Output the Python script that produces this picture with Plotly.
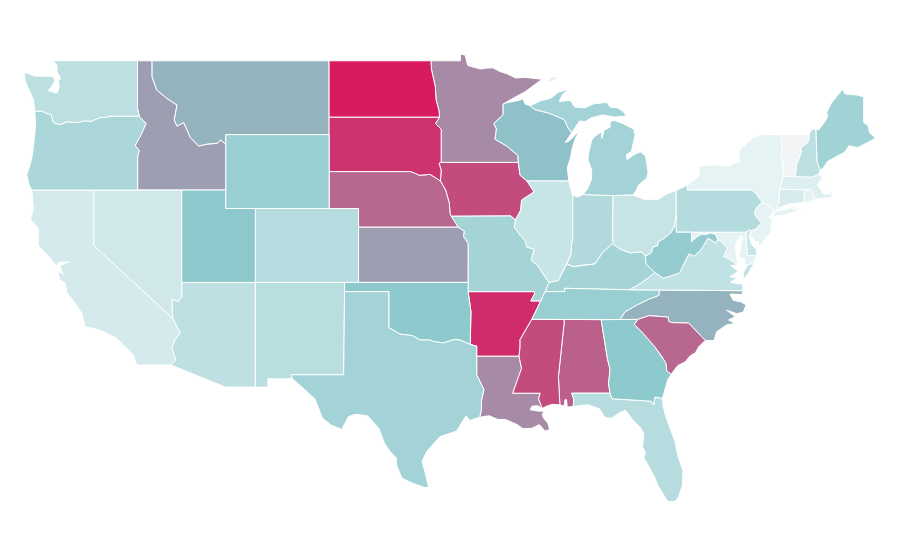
import plotly.graph_objects as go
from plotly.colors import sample_colorscale

# ---- state values and colour scale ----
states = ["AL","AR","AZ","CA","CO","CT","DC","DE","FL","GA","IA","ID","IL","IN","KS","KY","LA","MA","MD","ME","MI","MN","MO","MS","MT","NC","ND","NE","NH","NJ","NM","NV","NY","OH","OK","OR","PA","RI","SC","SD","TN","TX","UT","VA","VT","WA","WI","WV","WY"]
values = [0.80,0.95,0.26,0.157,0.30,0.14,0.10,0.21,0.30,0.49,0.86,0.62,0.215,0.32,0.62,0.38,0.68,0.11,0.07,0.40,0.39,0.68,0.38,0.86,0.56,0.56,1.00,0.78,0.27,0.07,0.284,0.176,0.073,0.22,0.49,0.35,0.31,0.07,0.78,0.93,0.44,0.39,0.50,0.245,0.0,0.27,0.52,0.46,0.44]
colorscale = [[0, "#f3f4f6"], [0.03, "#eef7f8"], [0.5, "#8cc8cc"], [1, "#d81b60"]]

# ---- shared state borders, (longitude, latitude) ----
wa_coast = [(-124.0,46.27),(-124.05,46.65),(-124.1,46.9),(-124.35,47.35),(-124.65,47.9),(-124.73,48.38),(-124.0,48.17),(-123.1,48.15),(-122.75,48.15),(-122.65,47.9),(-122.9,47.55),(-123.1,47.4),(-122.8,47.3),(-122.6,47.25),(-122.45,47.3),(-122.35,47.6),(-122.4,47.9),(-122.25,48.05),(-122.5,48.4),(-122.5,48.75),(-122.76,49.0)]
wa_bc = [(-122.76,49.0),(-117.04,49.0)]
wa_id = [(-117.04,49.0),(-117.04,46.42),(-116.92,46.0)]
wa_or = [(-124.0,46.27),(-123.5,46.27),(-123.2,46.15),(-122.9,46.1),(-122.8,45.85),(-122.75,45.65),(-122.3,45.55),(-121.8,45.7),(-121.2,45.65),(-120.65,45.75),(-120.2,45.72),(-119.6,45.92),(-119.2,45.93),(-119.0,46.0),(-116.92,46.0)]
or_coast = [(-124.0,46.27),(-123.95,45.5),(-124.05,44.7),(-124.15,44.0),(-124.3,43.4),(-124.55,42.84),(-124.4,42.3),(-124.21,42.0)]
or_id = [(-116.92,46.0),(-116.46,45.6),(-116.8,45.0),(-117.2,44.4),(-116.92,44.15),(-117.03,43.8),(-117.03,42.0)]
or_nv = [(-117.03,42.0),(-120.0,42.0)]
or_ca = [(-120.0,42.0),(-124.21,42.0)]
nv_id = [(-117.03,42.0),(-114.04,42.0)]
id_ut = [(-114.04,42.0),(-111.05,42.0)]
id_bc = [(-117.04,49.0),(-116.05,49.0)]
id_mt = [(-116.05,49.0),(-116.05,48.13),(-115.73,47.41),(-115.04,46.96),(-114.36,46.6),(-114.55,45.79),(-114.36,45.46),(-113.91,45.66),(-113.46,44.85),(-112.89,44.38),(-112.32,44.49),(-111.64,44.53),(-111.41,44.71),(-111.05,44.47)]
id_wy = [(-111.05,44.47),(-111.05,42.0)]
mt_bc = [(-116.05,49.0),(-104.05,49.0)]
mt_nd = [(-104.05,49.0),(-104.05,45.94)]
mt_sd = [(-104.05,45.94),(-104.05,45.0)]
mt_wy = [(-104.05,45.0),(-111.05,45.0)]
mt_wy2 = [(-111.05,45.0),(-111.05,44.47)]
wy_sd = [(-104.05,45.0),(-104.05,43.0)]
wy_ne = [(-104.05,43.0),(-104.05,41.0)]
wy_co = [(-104.05,41.0),(-109.05,41.0)]
wy_ut = [(-109.05,41.0),(-111.05,41.0),(-111.05,42.0)]
nd_can = [(-104.05,49.0),(-97.15,49.0)]
nd_mn = [(-97.15,49.0),(-97.1,48.5),(-96.85,47.6),(-96.8,46.9),(-96.6,46.3),(-96.56,45.94)]
nd_sd = [(-96.56,45.94),(-104.05,45.94)]
sd_mn = [(-96.56,45.94),(-96.84,45.6),(-96.45,45.3),(-96.45,43.5)]
sd_ia = [(-96.45,43.5),(-96.6,43.45),(-96.45,43.08),(-96.5,42.49)]
sd_ne = [(-96.5,42.49),(-96.7,42.6),(-97.2,42.85),(-97.9,42.8),(-98.5,43.0),(-104.05,43.0)]
ne_ia = [(-96.5,42.49),(-96.15,42.0),(-95.9,41.3),(-95.85,40.74),(-95.77,40.58)]
ne_mo = [(-95.77,40.58),(-95.31,40.0)]
ne_ks = [(-95.31,40.0),(-102.05,40.0)]
ne_co = [(-102.05,40.0),(-102.05,41.0),(-104.05,41.0)]
co_ks = [(-102.05,40.0),(-102.05,37.0)]
co_ok = [(-102.05,37.0),(-103.0,37.0)]
co_nm = [(-103.0,37.0),(-109.05,37.0)]
co_ut = [(-109.05,37.0),(-109.05,41.0)]
ut_az = [(-109.05,37.0),(-114.04,37.0)]
ut_nv = [(-114.04,37.0),(-114.04,42.0)]
ks_mo = [(-95.31,40.0),(-94.88,39.78),(-94.92,39.47),(-94.61,39.11),(-94.62,37.0)]
ks_ok = [(-94.62,37.0),(-102.05,37.0)]
mo_ok = [(-94.62,37.0),(-94.62,36.5)]
ok_ar = [(-94.62,36.5),(-94.43,35.4),(-94.48,33.64)]
ok_tx = [(-94.48,33.64),(-95.17,33.88),(-95.6,33.9),(-96.3,33.72),(-96.98,33.8),(-97.2,33.88),(-97.88,33.88),(-98.4,34.12),(-99.24,34.2),(-99.7,34.4),(-100.0,34.56),(-100.0,36.5),(-103.0,36.5)]
ok_nm = [(-103.0,36.5),(-103.0,37.0)]
ar_tx = [(-94.48,33.64),(-94.04,33.55),(-94.04,33.0)]
la_tx = [(-94.04,33.0),(-94.04,32.0),(-93.8,31.6),(-93.55,31.2),(-93.72,30.6),(-93.72,30.1),(-93.84,29.7)]
tx_coast = [(-93.84,29.7),(-94.5,29.52),(-94.75,29.78),(-94.95,29.55),(-95.4,28.95),(-96.53,28.65),(-97.43,27.85),(-97.75,27.3),(-97.55,26.75),(-97.3,25.9)]
tx_mex = [(-97.3,25.9),(-97.6,25.9),(-98.3,26.1),(-99.1,26.4),(-99.45,27.05),(-99.5,27.5),(-99.92,27.85),(-100.3,28.3),(-100.65,29.05),(-101.0,29.4),(-101.45,29.78),(-102.29,29.86),(-102.74,29.73),(-103.19,29.04),(-103.9,29.27),(-104.5,29.65),(-104.66,29.95),(-105.0,30.68),(-105.5,31.05),(-106.02,31.4),(-106.53,31.78)]
tx_nm = [(-106.53,31.78),(-106.62,32.0),(-103.06,32.0),(-103.0,36.5)]
nm_mex = [(-106.53,31.78),(-108.2,31.78),(-108.2,31.33),(-109.05,31.33)]
nm_az = [(-109.05,31.33),(-109.05,37.0)]
az_mex = [(-109.05,31.33),(-111.07,31.33),(-114.78,32.53)]
az_ca = [(-114.78,32.53),(-114.45,32.8),(-114.56,33.07),(-114.72,33.5),(-114.5,33.9),(-114.15,34.27),(-114.65,35.05)]
az_nv = [(-114.65,35.05),(-114.72,36.1),(-114.27,35.98),(-114.04,36.2),(-114.04,37.0)]
nv_ca = [(-114.65,35.05),(-120.0,39.0),(-120.0,42.0)]
ca_coast = [(-124.21,42.0),(-124.1,41.0),(-124.3,40.4),(-123.76,39.93),(-123.76,39.0),(-122.95,38.3),(-122.63,38.0),(-122.5,37.85),(-122.4,38.08),(-122.0,38.1),(-121.65,38.12),(-122.0,38.0),(-122.3,37.92),(-122.2,37.6),(-122.05,37.45),(-122.35,37.55),(-122.5,37.75),(-122.3,37.13),(-121.95,36.97),(-121.84,36.5),(-120.82,35.34),(-120.59,34.6),(-119.58,34.42),(-118.45,33.97),(-117.32,33.07),(-117.09,32.53),(-114.78,32.53)]
mn_can = [(-97.15,49.0),(-95.15,49.0),(-95.15,49.38),(-94.82,49.3),(-94.65,48.75),(-93.8,48.55),(-93.4,48.6),(-92.95,48.62),(-92.5,48.43),(-92.0,48.3),(-91.4,48.07),(-90.75,48.1),(-89.6,48.0)]
mn_sup = [(-89.6,48.0),(-90.8,47.3),(-91.4,47.05),(-92.05,46.72)]
mn_wi = [(-92.05,46.72),(-92.25,46.66),(-92.25,46.07),(-92.88,45.6),(-92.7,45.3),(-92.8,44.75),(-92.0,44.38),(-91.25,43.88),(-91.22,43.5)]
ia_mn = [(-91.22,43.5),(-96.45,43.5)]
ia_wi = [(-91.22,43.5),(-91.1,42.8),(-90.64,42.5)]
ia_il = [(-90.64,42.5),(-90.15,41.9),(-91.0,41.45),(-91.05,40.92),(-91.42,40.38)]
ia_mo = [(-91.42,40.38),(-91.72,40.6),(-95.77,40.58)]
mo_il = [(-91.42,40.38),(-91.5,40.0),(-91.1,39.55),(-90.75,39.25),(-90.65,38.9),(-90.15,38.8),(-90.35,38.2),(-89.9,37.9),(-89.5,37.4),(-89.15,37.0)]
mo_ky = [(-89.15,37.0),(-89.4,36.5)]
mo_tn = [(-89.4,36.5),(-89.7,36.0)]
mo_ar = [(-89.7,36.0),(-90.37,36.0),(-90.1,36.4),(-90.15,36.5),(-94.62,36.5)]
ar_tn = [(-89.7,36.0),(-90.05,35.4),(-90.2,35.1),(-90.3,35.0)]
ar_ms = [(-90.3,35.0),(-90.6,34.6),(-91.1,33.9),(-91.1,33.5),(-91.17,33.0)]
ar_la = [(-91.17,33.0),(-94.04,33.0)]
la_ms = [(-91.17,33.0),(-91.0,32.35),(-91.1,32.1),(-91.6,31.0),(-89.73,31.0),(-89.85,30.7),(-89.6,30.18)]
la_coast = [(-89.6,30.18),(-89.9,30.32),(-90.3,30.3),(-90.4,30.1),(-89.85,30.03),(-89.45,30.02),(-89.6,29.85),(-89.5,29.65),(-89.2,29.35),(-89.1,29.03),(-89.4,28.95),(-89.8,29.3),(-90.1,29.18),(-90.3,29.1),(-90.9,29.08),(-91.3,29.3),(-91.8,29.48),(-92.1,29.58),(-92.6,29.58),(-93.2,29.78),(-93.84,29.7)]
ms_tn = [(-90.3,35.0),(-88.2,35.0)]
ms_al = [(-88.2,35.0),(-88.1,34.9),(-88.5,31.9),(-88.4,30.37)]
ms_coast = [(-88.4,30.37),(-88.9,30.4),(-89.3,30.3),(-89.6,30.18)]
al_tn = [(-88.2,35.0),(-85.6,34.98)]
al_ga = [(-85.6,34.98),(-85.18,32.87),(-85.0,32.3),(-85.1,31.5),(-85.0,31.0)]
al_fl = [(-85.0,31.0),(-87.6,31.0),(-87.45,30.65),(-87.5,30.28)]
al_coast = [(-87.5,30.28),(-87.9,30.25),(-87.95,30.65),(-88.05,30.65),(-88.12,30.3),(-88.4,30.37)]
tn_ga = [(-85.6,34.98),(-84.32,34.99)]
ga_nc = [(-84.32,34.99),(-83.1,35.0)]
ga_sc = [(-83.1,35.0),(-83.35,34.72),(-82.75,34.24),(-81.95,33.5),(-81.5,33.0),(-81.2,32.62),(-81.15,32.2),(-80.85,32.03)]
ga_coast = [(-80.85,32.03),(-81.1,31.7),(-81.3,31.2),(-81.45,30.72)]
ga_fl = [(-81.45,30.72),(-81.95,30.8),(-82.05,30.36),(-82.2,30.57),(-84.87,30.7),(-85.0,31.0)]
fl_coast = [(-81.45,30.72),(-81.4,30.3),(-81.25,29.8),(-80.9,29.05),(-80.6,28.4),(-80.4,27.6),(-80.05,26.8),(-80.1,26.0),(-80.35,25.4),(-80.5,25.2),(-80.75,25.12),(-81.1,25.15),(-81.75,26.0),(-82.0,26.5),(-82.4,27.1),(-82.7,27.5),(-82.6,27.8),(-82.8,28.1),(-82.7,28.8),(-82.95,29.15),(-83.4,29.5),(-83.95,30.08),(-84.35,29.95),(-84.9,29.65),(-85.35,29.68),(-85.7,30.15),(-86.5,30.38),(-87.5,30.28)]
nc_sc = [(-83.1,35.0),(-82.35,35.2),(-81.05,35.12),(-81.04,34.9),(-80.8,34.82),(-79.67,34.8),(-78.55,33.86)]
sc_coast = [(-78.55,33.86),(-79.0,33.5),(-79.2,33.2),(-79.6,33.0),(-79.9,32.7),(-80.4,32.5),(-80.65,32.25),(-80.85,32.03)]
nc_va = [(-81.68,36.59),(-76.0,36.55)]
nc_coast = [(-76.0,36.55),(-76.05,36.35),(-76.87,36.37),(-76.66,36.04),(-76.07,35.93),(-75.78,35.77),(-75.96,35.4),(-76.4,35.3),(-77.1,35.5),(-76.5,35.14),(-76.97,34.97),(-76.5,34.78),(-77.1,34.7),(-77.77,34.33),(-77.95,33.85),(-78.55,33.86)]
tn_nc = [(-84.32,34.99),(-83.98,35.41),(-83.2,35.77),(-82.4,36.08),(-81.68,36.3),(-81.68,36.59)]
tn_va = [(-81.68,36.59),(-83.68,36.6)]
tn_ky = [(-83.68,36.6),(-88.07,36.68),(-88.07,36.5),(-89.4,36.5)]
ky_va = [(-83.68,36.6),(-83.1,36.85),(-82.3,37.3),(-81.97,37.54)]
ky_wv = [(-81.97,37.54),(-82.56,38.0),(-82.6,38.42)]
ky_oh = [(-82.6,38.42),(-82.85,38.66),(-83.65,38.6),(-84.3,38.8),(-84.82,39.1)]
ky_in = [(-84.82,39.1),(-85.46,38.66),(-86.02,38.0),(-86.81,37.94),(-87.49,37.85),(-87.94,38.0),(-88.05,37.8)]
ky_il = [(-88.05,37.8),(-88.5,37.1),(-89.15,37.0)]
va_wv = [(-81.97,37.54),(-81.39,37.22),(-80.3,37.5),(-79.65,38.55),(-79.3,38.42),(-78.85,38.75),(-78.35,39.4),(-77.83,39.13),(-77.72,39.32)]
va_md = [(-77.72,39.32),(-77.45,39.2),(-77.05,38.85),(-77.3,38.4),(-77.0,38.3),(-76.35,37.95)]
va_coast = [(-76.35,37.95),(-76.8,37.9),(-76.3,37.6),(-76.85,37.3),(-76.35,37.25),(-76.85,37.0),(-76.3,36.95),(-76.0,36.9),(-76.0,36.55)]
wv_md = [(-77.72,39.32),(-77.83,39.6),(-78.2,39.68),(-78.45,39.6),(-78.8,39.6),(-79.1,39.47),(-79.48,39.2),(-79.48,39.72)]
wv_pa = [(-79.48,39.72),(-80.52,39.72),(-80.52,40.64)]
wv_oh = [(-80.52,40.64),(-80.65,40.0),(-80.85,39.7),(-81.4,39.35),(-81.75,39.2),(-81.75,39.0),(-82.1,38.9),(-82.2,38.6),(-82.6,38.42)]
in_oh = [(-84.82,39.1),(-84.8,41.7)]
oh_mi = [(-84.8,41.7),(-83.45,41.73)]
oh_erie = [(-83.45,41.73),(-82.7,41.5),(-81.7,41.5),(-81.2,41.77),(-80.52,41.98)]
oh_pa = [(-80.52,41.98),(-80.52,40.64)]
il_in = [(-87.53,41.72),(-87.53,39.35),(-87.6,39.1),(-87.65,38.5),(-88.05,37.8)]
in_mi = [(-84.8,41.7),(-86.82,41.76)]
in_lake = [(-86.82,41.76),(-87.2,41.62),(-87.53,41.72)]
il_wi = [(-90.64,42.5),(-87.8,42.5)]
il_lake = [(-87.8,42.5),(-87.6,41.85),(-87.53,41.72)]
wi_sup = [(-92.05,46.72),(-91.2,46.85),(-90.9,46.95),(-90.75,46.65),(-90.42,46.57)]
wi_mi = [(-90.42,46.57),(-90.1,46.35),(-89.1,46.15),(-88.7,46.0),(-88.1,45.8),(-87.85,45.35),(-87.6,45.1)]
wi_lake = [(-87.6,45.1),(-88.05,44.56),(-87.7,44.7),(-87.05,45.25),(-87.35,44.8),(-87.55,44.3),(-87.7,43.7),(-87.9,43.2),(-87.8,42.5)]
up_coast = [(-90.42,46.57),(-89.7,46.83),(-89.0,46.98),(-88.5,47.3),(-87.8,47.47),(-88.2,47.2),(-88.45,46.8),(-87.7,46.85),(-87.4,46.5),(-86.7,46.45),(-86.1,46.67),(-85.2,46.75),(-85.0,46.5),(-84.5,46.45),(-84.1,46.25),(-83.9,46.0),(-84.7,45.95),(-85.5,46.07),(-86.3,45.9),(-86.7,45.7),(-87.05,45.75),(-87.6,45.1)]
lp_coast = [(-83.45,41.73),(-83.2,42.0),(-83.1,42.25),(-82.5,42.65),(-82.42,43.0),(-82.6,43.85),(-82.95,44.07),(-83.4,43.9),(-83.85,43.65),(-83.9,43.9),(-83.55,44.1),(-83.3,44.85),(-83.3,45.0),(-83.4,45.3),(-84.2,45.63),(-84.75,45.78),(-85.0,45.7),(-85.0,45.4),(-85.4,45.25),(-85.55,44.8),(-85.6,45.15),(-86.05,44.9),(-86.25,44.7),(-86.45,44.0),(-86.5,43.65),(-86.25,43.1),(-86.25,42.6),(-86.5,42.1),(-86.82,41.76)]
isle_royale = [(-89.15,47.87),(-88.6,48.08),(-88.75,48.12),(-89.2,47.92)]
pa_erie = [(-80.52,41.98),(-79.76,42.27)]
ny_pa = [(-79.76,42.27),(-79.76,42.0),(-75.35,42.0)]
ny_pa2 = [(-75.35,42.0),(-75.05,41.75),(-74.7,41.36)]
nj_pa = [(-74.7,41.36),(-75.13,40.98),(-75.2,40.68),(-74.75,40.2),(-75.1,39.9),(-75.42,39.8)]
pa_de = [(-75.42,39.8),(-75.6,39.84),(-75.79,39.72)]
pa_md = [(-75.79,39.72),(-79.48,39.72)]
nj_ny = [(-74.7,41.36),(-73.9,41.0),(-74.02,40.7)]
nj_coast = [(-74.02,40.7),(-74.25,40.5),(-74.0,40.45),(-74.1,39.75),(-74.4,39.4),(-74.9,38.93),(-74.95,39.2),(-75.15,39.2),(-75.5,39.5),(-75.42,39.8)]
ny_lake = [(-79.76,42.27),(-79.05,42.7),(-78.9,42.9),(-79.05,43.27),(-78.0,43.37),(-77.0,43.28),(-76.45,43.5),(-76.2,43.55),(-76.3,43.95),(-76.2,44.2),(-75.3,44.85),(-74.7,45.0),(-73.35,45.01)]
ny_vt = [(-73.35,45.01),(-73.4,44.5),(-73.3,44.2),(-73.43,43.6),(-73.25,43.55),(-73.27,42.75)]
ny_ma = [(-73.27,42.75),(-73.5,42.05)]
ny_ct = [(-73.5,42.05),(-73.55,41.3),(-73.73,41.1),(-73.65,41.0)]
ny_sound = [(-73.65,41.0),(-73.9,40.8),(-74.02,40.7)]
long_island = [(-74.0,40.6),(-73.75,40.85),(-73.0,40.97),(-72.3,41.15),(-72.6,40.95),(-71.87,41.07),(-72.5,40.82),(-73.3,40.63),(-74.0,40.58)]
de_coast = [(-75.42,39.8),(-75.55,39.5),(-75.4,39.05),(-75.08,38.8),(-75.05,38.45)]
de_md = [(-75.05,38.45),(-75.7,38.46),(-75.79,39.72)]
md_coast = [(-75.05,38.45),(-75.25,38.03),(-75.65,37.95),(-75.9,37.95)]
md_bay = [(-75.9,37.95),(-75.85,38.3),(-76.25,38.35),(-76.15,38.7),(-76.15,39.0),(-76.0,39.4),(-76.1,39.55),(-76.45,39.2),(-76.5,38.9),(-76.4,38.3),(-76.35,37.95)]
va_shore = [(-75.25,38.03),(-75.65,37.45),(-75.98,37.15),(-75.95,37.55),(-75.65,37.95)]
dc_outline = [(-77.12,38.93),(-77.04,39.0),(-76.91,38.89),(-77.04,38.79)]
vt_can = [(-73.35,45.01),(-71.5,45.01)]
vt_nh = [(-71.5,45.01),(-71.55,44.6),(-72.05,44.3),(-72.05,44.0),(-72.35,43.4),(-72.45,42.73)]
vt_ma = [(-72.45,42.73),(-73.27,42.75)]
nh_can = [(-71.5,45.01),(-71.3,45.3),(-71.05,45.3)]
nh_me = [(-71.05,45.3),(-70.97,43.5),(-70.75,43.08)]
nh_coast = [(-70.75,43.08),(-70.82,42.87)]
nh_ma = [(-70.82,42.87),(-71.3,42.7),(-72.45,42.73)]
me_out = [(-71.05,45.3),(-70.85,45.25),(-70.4,45.75),(-70.25,45.95),(-70.3,46.2),(-70.0,46.7),(-69.25,47.45),(-69.05,47.2),(-68.3,47.15),(-67.8,47.05),(-67.8,45.65),(-67.5,45.5),(-67.4,45.1),(-67.0,44.8),(-67.6,44.55),(-68.2,44.3),(-68.8,44.4),(-69.1,44.05),(-69.8,43.75),(-70.25,43.55),(-70.55,43.2),(-70.75,43.08)]
ma_coast = [(-70.82,42.87),(-70.6,42.65),(-70.95,42.3),(-70.65,41.95),(-70.5,41.78),(-70.05,41.8),(-70.2,42.07),(-69.95,41.85),(-70.0,41.6),(-70.65,41.55),(-71.13,41.5)]
ma_ri = [(-71.13,41.5),(-71.2,41.7),(-71.38,42.02),(-71.8,42.02)]
ma_ct = [(-71.8,42.02),(-73.5,42.05)]
ct_ri = [(-71.8,42.02),(-71.85,41.32)]
ct_coast = [(-71.85,41.32),(-72.9,41.25),(-73.65,41.0)]
ri_coast = [(-71.13,41.5),(-71.5,41.37),(-71.85,41.32)]


def r(border):
    return border[::-1]


state_rings = {
    "WA": [[wa_coast, wa_bc, wa_id, r(wa_or)]],
    "OR": [[wa_or, or_id, or_nv, or_ca, r(or_coast)]],
    "CA": [[or_ca, ca_coast, az_ca, nv_ca]],
    "NV": [[r(or_nv), nv_id, r(ut_nv), r(az_nv), nv_ca]],
    "ID": [[id_bc, id_mt, id_wy, r(id_ut), r(nv_id), r(or_id), r(wa_id)]],
    "MT": [[mt_bc, mt_nd, mt_sd, mt_wy, mt_wy2, r(id_mt)]],
    "WY": [[r(mt_wy), wy_sd, wy_ne, wy_co, wy_ut, r(id_wy), r(mt_wy2)]],
    "ND": [[nd_can, nd_mn, nd_sd, r(mt_nd)]],
    "SD": [[r(nd_sd), sd_mn, sd_ia, sd_ne, r(wy_sd), r(mt_sd)]],
    "NE": [[r(sd_ne), ne_ia, ne_mo, ne_ks, ne_co, r(wy_ne)]],
    "CO": [[r(wy_co), r(ne_co), co_ks, co_ok, co_nm, co_ut]],
    "UT": [[r(wy_ut), r(co_ut), ut_az, ut_nv, id_ut]],
    "KS": [[r(ne_ks), ks_mo, ks_ok, r(co_ks)]],
    "OK": [[r(co_ok), r(ks_ok), mo_ok, ok_ar, ok_tx, ok_nm]],
    "TX": [[r(ok_tx), ar_tx, la_tx, tx_coast, tx_mex, tx_nm]],
    "NM": [[r(co_nm), r(ok_nm), r(tx_nm), nm_mex, nm_az]],
    "AZ": [[r(ut_az), r(nm_az), az_mex, az_ca, az_nv]],
    "MN": [[mn_can, mn_sup, mn_wi, ia_mn, r(sd_mn), r(nd_mn)]],
    "IA": [[r(ia_mn), ia_wi, ia_il, ia_mo, r(ne_ia), r(sd_ia)]],
    "MO": [[r(ia_mo), mo_il, mo_ky, mo_tn, mo_ar, r(mo_ok), r(ks_mo), r(ne_mo)]],
    "AR": [[r(mo_ar), ar_tn, ar_ms, ar_la, r(ar_tx), r(ok_ar)]],
    "LA": [[r(ar_la), la_ms, la_coast, r(la_tx)]],
    "MS": [[ms_tn, ms_al, ms_coast, r(la_ms), r(ar_ms)]],
    "AL": [[al_tn, al_ga, al_fl, al_coast, r(ms_al)]],
    "GA": [[tn_ga, ga_nc, ga_sc, ga_coast, ga_fl, r(al_ga)]],
    "FL": [[r(al_fl), r(ga_fl), fl_coast]],
    "SC": [[nc_sc, sc_coast, r(ga_sc)]],
    "NC": [[nc_va, nc_coast, r(nc_sc), r(ga_nc), tn_nc]],
    "TN": [[ms_tn, al_tn, tn_ga, tn_nc, tn_va, tn_ky, mo_tn, ar_tn]],
    "KY": [[r(tn_ky), ky_va, ky_wv, ky_oh, ky_in, ky_il, mo_ky]],
    "VA": [[r(nc_va), tn_va, ky_va, va_wv, va_md, va_coast], [va_shore]],
    "WV": [[r(ky_wv), va_wv, wv_md, wv_pa, wv_oh]],
    "OH": [[in_oh, oh_mi, oh_erie, oh_pa, wv_oh, ky_oh]],
    "IN": [[il_in, r(ky_in), in_oh, in_mi, in_lake]],
    "IL": [[il_wi, il_lake, il_in, ky_il, r(mo_il), r(ia_il)]],
    "WI": [[r(mn_wi), wi_sup, wi_mi, wi_lake, r(il_wi), r(ia_wi)]],
    "MI": [[r(wi_mi), up_coast], [r(in_mi), oh_mi, lp_coast], [isle_royale]],
    "PA": [[r(oh_pa), pa_erie, ny_pa, ny_pa2, nj_pa, pa_de, pa_md, wv_pa]],
    "NJ": [[nj_ny, nj_coast, r(nj_pa)]],
    "NY": [[ny_lake, ny_vt, ny_ma, ny_ct, ny_sound, r(nj_ny), r(ny_pa2), r(ny_pa)], [long_island]],
    "DE": [[r(pa_de), de_coast, de_md]],
    "MD": [[r(pa_md), r(de_md), md_coast, md_bay, r(va_md), wv_md]],
    "DC": [[dc_outline]],
    "VT": [[r(ny_vt), vt_can, vt_nh, vt_ma]],
    "NH": [[r(vt_nh), nh_can, nh_me, nh_coast, nh_ma]],
    "ME": [[r(nh_me), me_out]],
    "MA": [[r(ny_ma), r(vt_ma), r(nh_ma), ma_coast, ma_ri, ma_ct]],
    "CT": [[r(ma_ct), ct_ri, ct_coast, r(ny_ct)]],
    "RI": [[r(ma_ri), ri_coast, r(ct_ri)]],
}

fig = go.Figure()
for state, value in zip(states, values):
    xs, ys = [], []
    for ring in state_rings[state]:
        points = [p for border in ring for p in border]
        points.append(points[0])
        xs += [p[0] for p in points] + [None]
        ys += [p[1] for p in points] + [None]
    fig.add_trace(go.Scatter(
        x=xs, y=ys, mode="lines", fill="toself",
        fillcolor=sample_colorscale(colorscale, [value])[0],
        line=dict(color="white", width=1),
        name=state, hoverinfo="name", showlegend=False,
    ))

fig.update_layout(
    width=892, height=552, margin=dict(l=0, r=0, t=0, b=0),
    paper_bgcolor="white", plot_bgcolor="white", showlegend=False,
    xaxis=dict(visible=False, range=[-125.82, -65.34]),
    yaxis=dict(visible=False, range=[21.97, 51.857]),
)
fig.write_html("out.html")
